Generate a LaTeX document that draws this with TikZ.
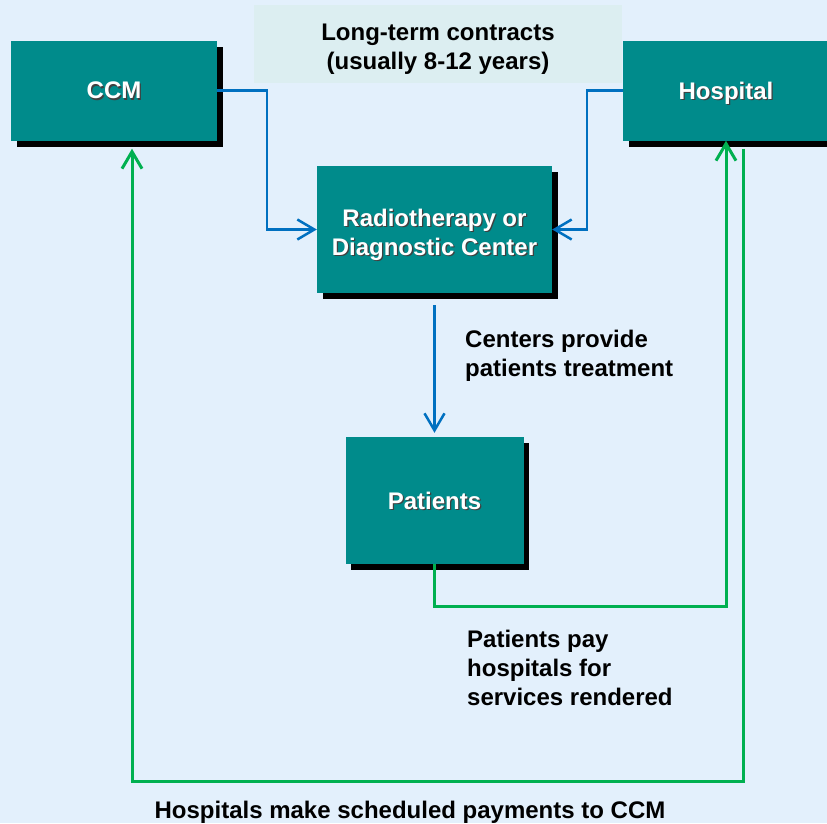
\documentclass[tikz,border=0pt]{standalone}
\usepackage{fontspec}
\setmainfont{Liberation Sans}
\usetikzlibrary{arrows.meta,shadows}

\definecolor{bgblue}{HTML}{E3F0FC}
\definecolor{boxteal}{HTML}{008B8B}
\definecolor{notebox}{HTML}{DCEEF1}
\definecolor{lineblue}{HTML}{0070C0}
\definecolor{linegreen}{HTML}{00B050}

\newcommand\shd[1]{\leavevmode\rlap{\kern1.3pt\raisebox{-1.3pt}{\color{black!75}#1}}#1}

\begin{document}
\begin{tikzpicture}[x=1pt,y=-1pt,
  font=\bfseries\fontsize{24}{29}\selectfont,
  box/.style={fill=boxteal, text=white, inner sep=0pt, align=center, text depth=0pt,
    drop shadow={shadow xshift=5.5pt, shadow yshift=-6pt, opacity=1, fill=black}},
  lbl/.style={inner sep=0pt, align=left, anchor=base west},
  flow/.style={draw=lineblue, line width=2.5pt, -{Straight Barb[length=17pt,width=20pt]}},
  pay/.style={draw=linegreen, line width=3pt, -{Straight Barb[length=17pt,width=20pt]}}]

\fill[bgblue] (0,0) rectangle (827,823);
\useasboundingbox (0,0) rectangle (827,823);

\node[fill=notebox, inner sep=0pt, minimum width=368pt, minimum height=78pt, align=center,
  text height=50pt, text depth=0pt] (contracts) at (438,44)
  {Long-term contracts\\(usually 8-12 years)};

\node[box, minimum width=206pt, minimum height=100pt] (ccm) at (114,90.5) {\shd{CCM}};
\node[box, minimum width=206pt, minimum height=100pt] (hosp) at (726,90.5) {\shd{Hospital}};
\node[box, minimum width=235pt, minimum height=127pt, text height=52pt] (rad) at (434.5,229.5)
  {\shd{Radiotherapy or}\\\shd{Diagnostic Center}};
\node[box, minimum width=178pt, minimum height=127pt] (pat) at (434.5,500.5) {\shd{Patients}};

\node[lbl] (treat) at (465,376) {Centers provide\\patients treatment};
\node[lbl] (paylbl) at (467,705) {Patients pay\\hospitals for\\services rendered};
\node[inner sep=0pt, anchor=base] (sched) at (410,818) {Hospitals make scheduled payments to CCM};

\draw[flow] (ccm.east) -| ([xshift=-50pt]rad.west) -- (rad.west);
\draw[flow] (hosp.west) -| ([xshift=35pt]rad.east) -- (rad.east);
\draw[flow] ([yshift=-12pt]rad.south) -- ([yshift=4pt]pat.north);

\draw[pay] (pat.south) -- ++(0,42) -| (hosp.south);
\draw[pay] ([xshift=17pt,yshift=-8pt]hosp.south) -- ++(0,633) -| ([xshift=18pt,yshift=-8pt]ccm.south);
\end{tikzpicture}
\end{document}
